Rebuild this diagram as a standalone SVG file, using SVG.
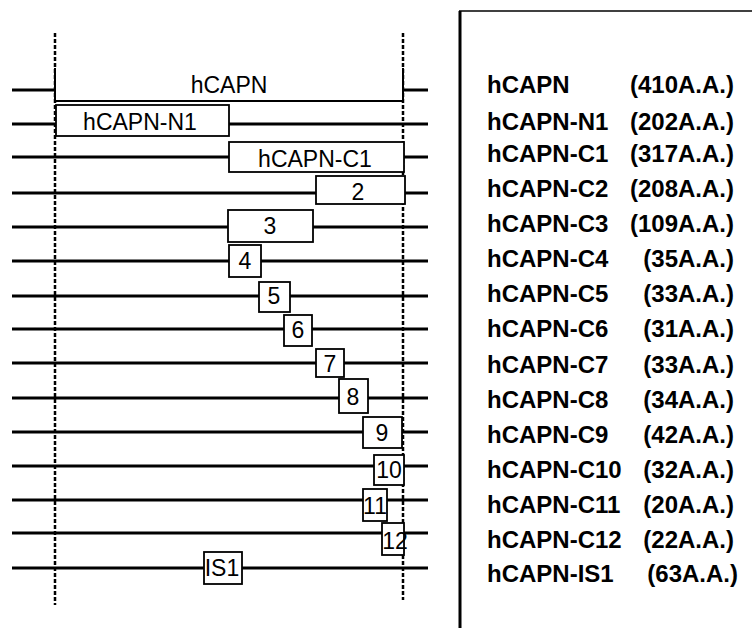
<svg xmlns="http://www.w3.org/2000/svg" width="752" height="628" viewBox="0 0 752 628">
<style>
.bg{fill:#fff}
.track{stroke:#000;stroke-width:3;fill:none}
.guide{stroke:#000;stroke-width:2.5;stroke-dasharray:4 2;fill:none}
.box{fill:#fff;stroke:#000;stroke-width:1.8}
.lbl{font-family:"Liberation Sans",Arial,sans-serif;font-size:23px;fill:#000;text-anchor:middle}
.name{font-family:"Liberation Sans",Arial,sans-serif;font-size:24px;font-weight:bold;fill:#000}
.val{font-family:"Liberation Sans",Arial,sans-serif;font-size:24px;font-weight:bold;fill:#000;text-anchor:end}
</style>
<rect class="bg" x="0" y="0" width="752" height="628"/>
<g id="connectors">
<line class="guide" x1="55" y1="33" x2="55" y2="605"/>
<line class="guide" x1="403" y1="33" x2="403" y2="600"/>
<line class="track" x1="12" y1="90" x2="55" y2="90"/>
<line class="track" x1="403" y1="90" x2="428" y2="90"/>
<line class="track" x1="12" y1="124" x2="428" y2="124"/>
<line class="track" x1="12" y1="157" x2="428" y2="157"/>
<line class="track" x1="12" y1="193" x2="428" y2="193"/>
<line class="track" x1="12" y1="227" x2="428" y2="227"/>
<line class="track" x1="12" y1="261" x2="428" y2="261"/>
<line class="track" x1="12" y1="296" x2="428" y2="296"/>
<line class="track" x1="12" y1="329" x2="428" y2="329"/>
<line class="track" x1="12" y1="363" x2="428" y2="363"/>
<line class="track" x1="12" y1="398" x2="428" y2="398"/>
<line class="track" x1="12" y1="432" x2="428" y2="432"/>
<line class="track" x1="12" y1="466" x2="428" y2="466"/>
<line class="track" x1="12" y1="500" x2="428" y2="500"/>
<line class="track" x1="12" y1="533" x2="428" y2="533"/>
<line class="track" x1="12" y1="568" x2="428" y2="568"/>
</g>
<g id="hCAPN">
<rect x="55" y="68" width="348" height="33" fill="#fff"/>
<path d="M55,68 V101 H403 V68" fill="none" stroke="#000" stroke-width="2"/>
<text class="lbl" x="229" y="93">hCAPN</text>
</g>
<g id="N1"><rect class="box" x="56" y="105" width="173" height="31"/><text class="lbl" x="140" y="130">hCAPN-N1</text></g>
<g id="C1"><rect class="box" x="229" y="142" width="175" height="30"/><text class="lbl" x="315" y="167">hCAPN-C1</text></g>
<g id="C2"><rect class="box" x="316" y="176" width="89" height="28"/><text class="lbl" x="358" y="200">2</text></g>
<g id="C3"><rect class="box" x="228" y="210" width="85" height="32"/><text class="lbl" x="270" y="234">3</text></g>
<g id="C4"><rect class="box" x="229" y="245" width="32" height="32"/><text class="lbl" x="245" y="269">4</text></g>
<g id="C5"><rect class="box" x="259" y="282" width="31" height="30"/><text class="lbl" x="274" y="304">5</text></g>
<g id="C6"><rect class="box" x="284" y="315" width="28" height="31"/><text class="lbl" x="298" y="338">6</text></g>
<g id="C7"><rect class="box" x="316" y="349" width="28" height="28"/><text class="lbl" x="330" y="372">7</text></g>
<g id="C8"><rect class="box" x="339" y="379" width="29" height="34"/><text class="lbl" x="353" y="405">8</text></g>
<g id="C9"><rect class="box" x="363" y="417" width="39" height="31"/><text class="lbl" x="382" y="441">9</text></g>
<g id="C10"><rect class="box" x="374" y="455" width="30" height="30"/><text class="lbl" x="389" y="478">10</text></g>
<g id="C11"><rect class="box" x="363" y="489" width="24" height="32"/><text class="lbl" x="375" y="514">11</text></g>
<g id="C12"><rect class="box" x="382" y="523" width="22" height="32"/><text class="lbl" x="395" y="549">12</text></g>
<g id="IS1"><rect class="box" x="204" y="552" width="38" height="32"/><text class="lbl" x="222" y="576">IS1</text></g>
<g id="legend">
<path d="M460,628 V11" stroke="#000" stroke-width="3" fill="none"/>
<path d="M459,11 H752" stroke="#000" stroke-width="1.5" fill="none"/>
<text class="name" x="487" y="93">hCAPN</text><text class="val" x="734" y="93">(410A.A.)</text>
<text class="name" x="487" y="130">hCAPN-N1</text><text class="val" x="734" y="130">(202A.A.)</text>
<text class="name" x="487" y="162">hCAPN-C1</text><text class="val" x="734" y="162">(317A.A.)</text>
<text class="name" x="487" y="197">hCAPN-C2</text><text class="val" x="734" y="197">(208A.A.)</text>
<text class="name" x="487" y="232">hCAPN-C3</text><text class="val" x="734" y="232">(109A.A.)</text>
<text class="name" x="487" y="267">hCAPN-C4</text><text class="val" x="734" y="267">(35A.A.)</text>
<text class="name" x="487" y="302">hCAPN-C5</text><text class="val" x="734" y="302">(33A.A.)</text>
<text class="name" x="487" y="337">hCAPN-C6</text><text class="val" x="734" y="337">(31A.A.)</text>
<text class="name" x="487" y="373">hCAPN-C7</text><text class="val" x="734" y="373">(33A.A.)</text>
<text class="name" x="487" y="408">hCAPN-C8</text><text class="val" x="734" y="408">(34A.A.)</text>
<text class="name" x="487" y="443">hCAPN-C9</text><text class="val" x="734" y="443">(42A.A.)</text>
<text class="name" x="487" y="478">hCAPN-C10</text><text class="val" x="734" y="478">(32A.A.)</text>
<text class="name" x="487" y="513">hCAPN-C11</text><text class="val" x="734" y="513">(20A.A.)</text>
<text class="name" x="487" y="548">hCAPN-C12</text><text class="val" x="734" y="548">(22A.A.)</text>
<text class="name" x="487" y="582">hCAPN-IS1</text><text class="val" x="738" y="582">(63A.A.)</text>
</g>
</svg>
